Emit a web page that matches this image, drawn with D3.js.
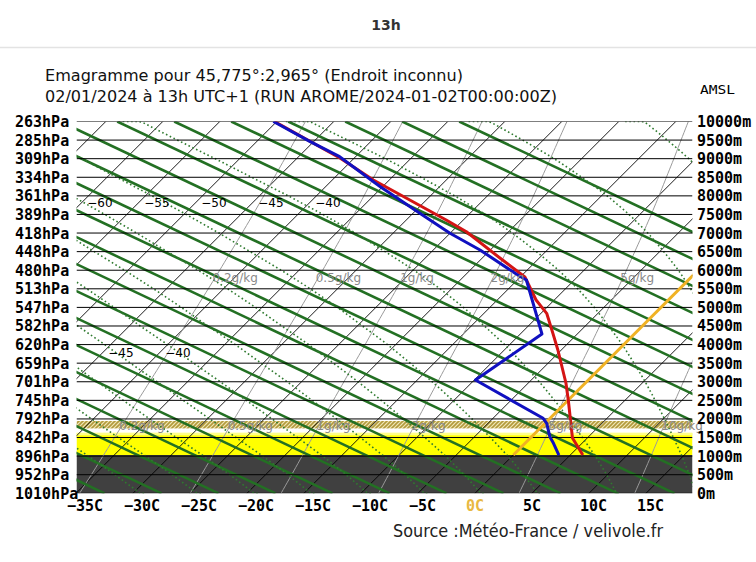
<!DOCTYPE html>
<html><head><meta charset="utf-8">
<script src="https://cdn.jsdelivr.net/npm/d3@7"></script>
<style>body{margin:0;background:#fff}svg{display:block}</style>
</head><body><svg id="c" width="756" height="562"></svg>
<script>
// ---------- data ----------
const pressureLabels = [1010,952,896,842,792,745,701,659,620,582,547,513,480,448,418,389,361,334,309,285,263];
const altitudeLevels = d3.range(0, 10001, 500);
const tempTicks = [-35,-30,-25,-20,-15,-10,-5,0,5,10,15];
const isothermLabelsHigh = [-60,-55,-50,-45,-40];
const isothermLabelsLow = [-45,-40];
const mixingRatios = [0.2,0.5,1,2,5,10];
// dry adiabats: sea-level temperature (°C) of each line
const dryAdiabats = [-102.5,-97.5,-92.5,-87.5,-82.5,-77.5,-72.5,-67.5,-62.5,-57.5,-52.5,-47.5,-42.5,-37.5,-32.5,-27.5,-22.5,-17.5,-12.5,-7.5,-2.5,2.5,7.5,12.5,17.5,22.5,27.5,32.5,37.5,42.5,47.5,52.5,57.5,62.5,67.5];
// moist adiabats: wet-bulb potential temperature (°C)
const moistAdiabatsC = [-30,-25,-20,-15,-10,-5,0,5,12,19,25,30];
const isotherms = d3.range(-110, 45, 5);
// temperature profile (altitude m, °C)
const tempAlt = [1030,1487,2509,2967,3854,4303,4841,5199,5818,6321,7036,7351,8427,9010,10000];
const tempVal = [6.1,3.7,0.0,-1.7,-5.3,-7.2,-9.5,-11.6,-14.6,-18.4,-23.7,-26.5,-36.4,-41.2,-50.2];
// dew point profile
const dewAlt = [1030,1345,1522,1883,2017,3047,4284,5737,5871,6544,6993,7531,8246,9053,9457,10000];
const dewVal = [4.0,2.5,1.6,0.15,-0.6,-9.9,-8.1,-14.2,-15.4,-20.9,-25.0,-29.4,-35.2,-41.4,-45.3,-50.3];
const groundAlt = 1030;
const thermalTop = 1625;
const cloudLayer = [1745, 1945];
const titleText = "13h";
const subtitle1 = "Emagramme pour 45,775°:2,965° (Endroit inconnu)";
const subtitle2 = "02/01/2024 à 13h UTC+1 (RUN AROME/2024-01-02T00:00:00Z)";
const sourceText = "Source :Météo-France / velivole.fr";

// ---------- scales ----------
const svg = d3.select("#c");
const X0 = 76.5, X1 = 692.5, YT = 121.5, YB = 493.3;
const y = d3.scaleLinear().domain([0, 10000]).range([YB, YT]);
const xT = d3.scaleLinear().domain([-35, 15]).range([76, 646]);
const px = (T, z) => xT(T) + (YB - y(z));
const lnP = d3.scaleLinear().domain(altitudeLevels).range(pressureLabels.map(Math.log));
const zOfLnP = d3.scaleLinear().domain(pressureLabels.map(Math.log)).range(altitudeLevels);
const pAt = z => Math.exp(lnP(z));
const zAt = p => zOfLnP(Math.log(p));
const DRY_LAPSE = 10.15; // K per km on this diagram

const defs = svg.append("defs");
defs.append("clipPath").attr("id","clip").append("rect")
  .attr("x",X0).attr("y",YT).attr("width",X1-X0).attr("height",YB-YT);
const pat = defs.append("pattern").attr("id","hatch").attr("patternUnits","userSpaceOnUse")
  .attr("width",4).attr("height",4);
pat.append("rect").attr("width",4).attr("height",4).attr("fill","#efe7b4");
pat.append("path").attr("d","M-1,5 L5,-1 M-1,1 L1,-1 M3,5 L5,3").attr("stroke","#b39a3c").attr("stroke-width",1.6);

// header
svg.append("text").attr("x",386).attr("y",30).attr("text-anchor","middle")
  .attr("font-family","DejaVu Sans").attr("font-weight","bold").attr("font-size",14)
  .attr("fill","#333").text(titleText);
svg.append("line").attr("x1",0).attr("x2",756).attr("y1",47.5).attr("y2",47.5)
  .attr("stroke","#e3e3e3").attr("stroke-width",1.5);
svg.append("text").attr("x",45).attr("y",81).attr("font-family","DejaVu Sans").attr("font-size",16)
  .attr("textLength",418).attr("lengthAdjust","spacingAndGlyphs").attr("fill","#111").text(subtitle1);
svg.append("text").attr("x",45).attr("y",102).attr("font-family","DejaVu Sans").attr("font-size",16)
  .attr("textLength",512).attr("lengthAdjust","spacingAndGlyphs").attr("fill","#111").text(subtitle2);
svg.append("text").attr("x",700).attr("y",94).attr("font-family","DejaVu Sans Mono").attr("font-size",13)
  .attr("textLength",35).attr("lengthAdjust","spacingAndGlyphs").attr("fill","#000").text("AMSL");

const plot = svg.append("g").attr("clip-path","url(#clip)");

// background layers
plot.append("rect").attr("x",X0).attr("width",X1-X0).attr("y",y(thermalTop)).attr("height",y(groundAlt)-y(thermalTop)).attr("fill","#ffff00");
plot.append("rect").attr("x",X0).attr("width",X1-X0).attr("y",y(thermalTop)).attr("height",2.5).attr("fill","#ffff88");
plot.append("rect").attr("x",X0).attr("width",X1-X0).attr("y",y(cloudLayer[1])).attr("height",y(cloudLayer[0])-y(cloudLayer[1])).attr("fill","url(#hatch)");
plot.append("rect").attr("x",X0).attr("width",X1-X0).attr("y",y(groundAlt)).attr("height",YB-y(groundAlt)).attr("fill","#404040");

const line = d3.line().x(d=>d[0]).y(d=>d[1]);
const zSamples = d3.range(0, 10001, 100);

// isotherms
plot.append("g").selectAll("line").data(isotherms).join("line")
  .attr("x1",T=>px(T,0)).attr("y1",y(0)).attr("x2",T=>px(T,10000)).attr("y2",y(10000))
  .attr("stroke","#000").attr("stroke-width",0.9);

// mixing ratio lines
function tMix(r, p){ const rk=r/1000; const es=rk*p/(0.622+rk); const L=Math.log(es/6.112); return 243.5*L/(17.67-L); }
plot.append("g").selectAll("path").data(mixingRatios).join("path")
  .attr("d",r=>line(zSamples.map(z=>[px(tMix(r,pAt(z)),z), y(z)])))
  .attr("fill","none").attr("stroke","#9a9a9a").attr("stroke-width",1);

// dry adiabats
plot.append("g").selectAll("line").data(dryAdiabats).join("line")
  .attr("x1",t=>px(t,0)).attr("y1",y(0))
  .attr("x2",t=>px(t-DRY_LAPSE*10,10000)).attr("y2",y(10000))
  .attr("stroke","#237023").attr("stroke-width",2.6);

// moist adiabats (pseudo-adiabatic integration)
function dTdp(p,T){ const Tc=T-273.15; const es=6.112*Math.exp(17.67*Tc/(Tc+243.5)); const rs=0.622*es/(p-es);
  const Rd=287.04, cp=1005.7, Lv=2.501e6, eps=0.622;
  return (Rd*T+Lv*rs)/(p*(cp+Lv*Lv*rs*eps/(Rd*T*T))); }
function moist(tw){
  const pts=[]; let T=tw+273.15, p=1000;
  const down=[]; let Td=T, pd=1000;
  while(pd<1015){ const h=1; Td+=dTdp(pd,Td)*h; pd+=h; down.push([pd,Td]); }
  down.reverse().forEach(d=>pts.push(d)); pts.push([1000,T]);
  while(p>255){ const h=-2; const k1=dTdp(p,T), k2=dTdp(p+h,T+k1*h); T+=0.5*(k1+k2)*h; p+=h; pts.push([p,T]); }
  return pts.map(([pp,tt])=>{ const z=zAt(Math.min(1010,Math.max(263,pp))); return [px(tt-273.15,z), y(z)]; });
}
plot.append("g").selectAll("path").data(moistAdiabatsC).join("path")
  .attr("d",tw=>line(moist(tw))).attr("fill","none").attr("stroke","#2f7a2f")
  .attr("stroke-width",1.6).attr("stroke-dasharray","1.6,2.6");

// horizontal level lines
plot.append("g").selectAll("line").data(altitudeLevels).join("line")
  .attr("x1",X0).attr("x2",X1).attr("y1",z=>y(z)).attr("y2",z=>y(z))
  .attr("stroke","#000").attr("stroke-width",1);

// 0°C isotherm
plot.append("line").attr("x1",px(0,groundAlt)).attr("y1",y(groundAlt)).attr("x2",px(0,10000)).attr("y2",y(10000))
  .attr("stroke","#f0b225").attr("stroke-width",3);

// profiles
plot.append("path").attr("d",line(tempAlt.map((z,i)=>[px(tempVal[i],z),y(z)])))
  .attr("fill","none").attr("stroke","#d41414").attr("stroke-width",3).attr("stroke-linejoin","round");
plot.append("path").attr("d",line(dewAlt.map((z,i)=>[px(dewVal[i],z),y(z)])))
  .attr("fill","none").attr("stroke","#1010c0").attr("stroke-width",3).attr("stroke-linejoin","round");

// in-plot labels
const lab = svg.append("g").attr("font-family","DejaVu Sans").attr("font-size",12);
const zHigh = y.invert(202), zLow = y.invert(352);
lab.selectAll("text.ih").data(isothermLabelsHigh).join("text").attr("class","ih")
  .attr("x",T=>px(T,zHigh)+5).attr("y",206.5).attr("fill","#000").text(T=>"−"+Math.abs(T));
lab.selectAll("text.il").data(isothermLabelsLow).join("text").attr("class","il")
  .attr("x",T=>px(T,zLow)+5).attr("y",356.5).attr("fill","#000").text(T=>"−"+Math.abs(T));
const zMixHigh = y.invert(277), zMixLow = y.invert(425);
[zMixHigh, zMixLow].forEach((zz,j)=>{
  lab.selectAll("text.m"+j).data(mixingRatios.filter(r=>px(tMix(r,pAt(zz)),zz)<690)).join("text").attr("class","m"+j)
    .attr("x",r=>px(tMix(r,pAt(zz)),zz)-3).attr("y",y(zz)+4.5).attr("fill","#888").text(r=>r+"g/kg");
});

// axes labels
const ax = svg.append("g").attr("font-family","DejaVu Sans Mono").attr("font-weight","bold").attr("font-size",15);
ax.selectAll("text.pl").data(pressureLabels).join("text").attr("class","pl")
  .attr("x",15).attr("y",(p,i)=>y(altitudeLevels[i])+5.5).attr("fill","#000").text(p=>p+"hPa");
ax.selectAll("text.al").data(altitudeLevels).join("text").attr("class","al")
  .attr("x",697).attr("y",z=>y(z)+5.5).attr("fill","#000").text(z=>z+"m");
ax.selectAll("text.tl").data(tempTicks).join("text").attr("class","tl")
  .attr("x",T=>xT(T)-9).attr("y",511).attr("fill",T=>T===0?"#e8b840":"#000")
  .text(T=>(T<0?"−"+Math.abs(T):T)+"C");

svg.append("text").attr("x",393).attr("y",537).attr("font-family","DejaVu Sans").attr("font-size",17)
  .attr("textLength",270).attr("lengthAdjust","spacingAndGlyphs").attr("fill","#222").text(sourceText);
</script></body></html>
